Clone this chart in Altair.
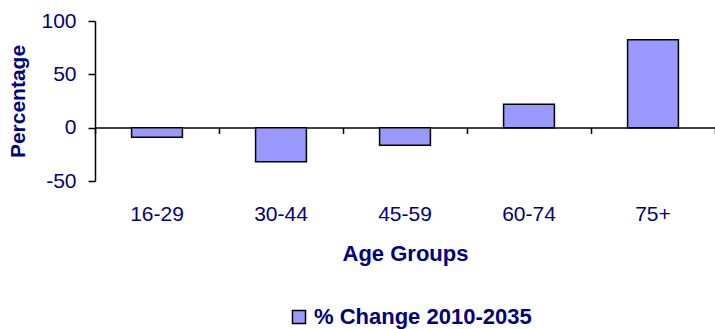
import altair as alt
import pandas as pd

groups = ["16-29", "30-44", "45-59", "60-74", "75+"]
values = [-9, -32, -16.5, 22, 82.5]
series = ["% Change 2010-2035"]

df = pd.DataFrame({"group": groups, "value": values, "series": series * len(groups)})

NAVY = "#000080"
FONT = "Liberation Sans"

xscale = alt.Scale(domain=groups, paddingInner=0, paddingOuter=0)
yscale = alt.Scale(domain=[-50, 100], nice=False, zero=False)

bars = alt.Chart(df).mark_bar(
    width={"band": 0.41}, stroke="black", strokeWidth=1.5
).encode(
    x=alt.X("group:N", scale=xscale, sort=groups,
            axis=alt.Axis(title="Age Groups", domain=False, ticks=False,
                          orient="bottom",
                          labelAngle=0, labelPadding=22, titlePadding=19,
                          labelFontSize=21, titleFontSize=22, labelFont=FONT,
                          titleFont=FONT, labelColor=NAVY, titleColor=NAVY,
                          titleFontWeight="bold")),
    y=alt.Y("value:Q", scale=yscale,
            axis=alt.Axis(title="Percentage", values=[-50, 0, 50, 100],
                          labelExpr="datum.value + ''",
                          grid=False, domainColor="black", tickColor="black",
                          domainWidth=1.5, tickWidth=1.5, tickSize=7,
                          labelPadding=12, labelFontSize=21, titleFontSize=21,
                          labelFont=FONT, titleFont=FONT, labelColor=NAVY,
                          titleColor=NAVY, titleFontWeight="bold",
                          titlePadding=12)),
    color=alt.Color("series:N", scale=alt.Scale(range=["#9999FF"]),
                    legend=alt.Legend(title=None, orient="none", legendX=193,
                                      legendY=285, symbolType="square",
                                      symbolSize=170, symbolStrokeColor="black",
                                      symbolStrokeWidth=1.5, labelFontSize=22,
                                      labelFont=FONT, labelColor=NAVY,
                                      labelFontWeight="bold", labelLimit=0)),
)

zero = alt.Chart(df).mark_point(opacity=0).encode(
    x=alt.X("group:N", scale=xscale, sort=groups,
            axis=alt.Axis(title=None, labels=False, orient="bottom",
                          offset=-53.5,
                          domainColor="black", domainWidth=1.5,
                          tickColor="black", tickWidth=1.5, tickSize=6,
                          tickBand="extent")),
    y=alt.Y("value:Q", scale=yscale),
)

chart = alt.layer(bars, zero).resolve_axis(x="independent").properties(
    width=620, height=160,
    autosize=alt.AutoSizeParams(type="none"),
    padding={"left": 95, "top": 21, "right": 0, "bottom": 148},
).configure_view(stroke=None)

chart.save("out.html", embed_options={"renderer": "svg", "actions": False})
